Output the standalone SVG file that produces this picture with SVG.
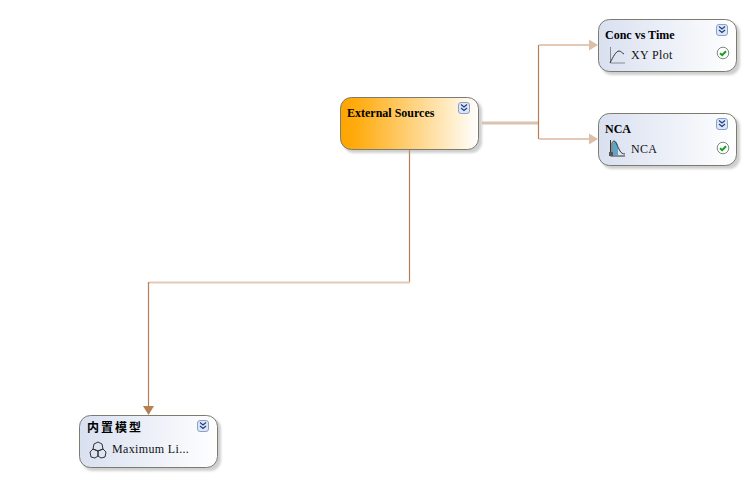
<svg xmlns="http://www.w3.org/2000/svg" width="747" height="498" viewBox="0 0 747 498">
  <style>
    .box { stroke: #7b7b6f; stroke-width: 1; }
    .shadow { fill: #a8a8a8; fill-opacity: .55; filter: url(#soft); }
    .title { font: bold 12px "Liberation Serif", "Noto Sans CJK SC", serif; fill: #000; }
    .cjk { font: bold 12px "Noto Sans CJK SC", sans-serif; fill: #000; letter-spacing: 2px; }
    .item { font: 12px "Liberation Serif", serif; fill: #111; letter-spacing: .35px; }
    .wire-light { fill: none; stroke: #e3c9b6; stroke-width: 2; }
    .wire-thick { fill: none; stroke: #dcc3b0; stroke-width: 3; }
    .wire-dark { fill: none; stroke: #b87f55; stroke-width: 1.2; }
    .expander rect { fill: #dde6f5; stroke: #8aa0c8; stroke-width: 1; }
    .expander path { fill: none; stroke: #1f3f86; stroke-width: 1.2; }
    .ok circle { fill: #fff; stroke: #7c8a7c; stroke-width: 1; }
    .ok path { fill: none; stroke: #14a020; stroke-width: 2; }
    .axis { fill: none; stroke: #8a8a8a; stroke-width: 1; }
    .glyph { fill: none; stroke: #333; stroke-width: 1; }
  </style>
  <defs>
    <linearGradient id="blueFill" x1="0" y1="0" x2="1" y2="0">
      <stop offset="0" stop-color="#d9e0f0"/>
      <stop offset="1" stop-color="#ffffff"/>
    </linearGradient>
    <linearGradient id="orangeFill" x1="0" y1="0" x2="1" y2="0">
      <stop offset="0" stop-color="#ffa500"/>
      <stop offset=".12" stop-color="#ffac10"/>
      <stop offset="1" stop-color="#ffffff"/>
    </linearGradient>
    <filter id="soft" x="-10%" y="-10%" width="120%" height="120%">
      <feGaussianBlur stdDeviation="1"/>
    </filter>
    <g id="expander" class="expander">
      <rect x=".5" y=".5" width="11" height="11" rx="2.5"/>
      <path d="M3 2.500 6 5 9 2.500M3 6 6 8.500 9 6"/>
    </g>
    <g id="ok" class="ok">
      <circle cx="6" cy="6" r="5.800"/>
      <path d="M3 6.200 5.200 8.200 9 4.200"/>
    </g>
  </defs>

  <g id="connectors">
    <path class="wire-thick" d="M482 123H538"/>
    <path class="wire-dark" d="M538.500 45V139"/>
    <path class="wire-light" d="M539 45H592"/>
    <path class="wire-light" d="M539 139H592"/>
    <path d="M589 39.500 598 45 589 50.500Z" fill="#dcbfa8"/>
    <path d="M589 133.500 598 139 589 144.500Z" fill="#dcbfa8"/>
    <path class="wire-dark" d="M409.500 150V282.500"/>
    <path class="wire-light" d="M410 282.500H149"/>
    <path class="wire-dark" d="M148.500 282V408"/>
    <path d="M143 406 148.500 415 154 406Z" fill="#b87f55"/>
  </g>

  <g id="node-external-sources">
    <rect class="shadow" x="343" y="100" width="139" height="53" rx="11"/>
    <rect class="box" x="340.500" y="97.500" width="138" height="52" rx="11" fill="url(#orangeFill)"/>
    <text class="title" x="347" y="117">External Sources</text>
    <use href="#expander" x="458" y="102"/>
  </g>

  <g id="node-conc-vs-time">
    <rect class="shadow" x="601" y="22" width="139" height="53" rx="11"/>
    <rect class="box" x="598.500" y="19.500" width="138" height="52" rx="11" fill="url(#blueFill)"/>
    <text class="title" x="605" y="39">Conc vs Time</text>
    <path class="axis" d="M610.500 47V63H625"/>
    <path class="glyph" d="M610 63C613 57 616 51 619 51 621 51 622 53 624 54"/>
    <text class="item" x="631" y="59">XY Plot</text>
    <use href="#expander" x="716" y="24"/>
    <use href="#ok" x="717" y="47"/>
  </g>

  <g id="node-nca">
    <rect class="shadow" x="601" y="116" width="139" height="53" rx="11"/>
    <rect class="box" x="598.500" y="113.500" width="138" height="52" rx="11" fill="url(#blueFill)"/>
    <text class="title" x="605" y="133">NCA</text>
    <path d="M613 155V143C615 139 617 142 618 146V155Z" fill="#5ba6c8"/>
    <path class="glyph" d="M610.500 140V156H625M612 155V143C615 137 617 146 620 151 621 153 623 154 625 154"/>
    <rect x="609" y="152" width="4" height="4" fill="#555"/>
    <text class="item" x="631" y="153">NCA</text>
    <use href="#expander" x="716" y="118"/>
    <use href="#ok" x="717" y="142"/>
  </g>

  <g id="node-builtin-model">
    <rect class="shadow" x="82" y="418" width="139" height="53" rx="11"/>
    <rect class="box" x="79.500" y="415.500" width="138" height="52" rx="11" fill="url(#blueFill)"/>
    <text class="cjk" x="87" y="432">内置模型</text>
    <path class="glyph" d="M98 442 102 444 103 449 98 451 93 449 94 444ZM93 449 98 451 98 456 95 458 91 457 90 452ZM103 449 106 452 105 457 101 458 98 456 98 451Z"/>
    <text class="item" x="112" y="453">Maximum Li...</text>
    <use href="#expander" x="197" y="420"/>
  </g>
</svg>
